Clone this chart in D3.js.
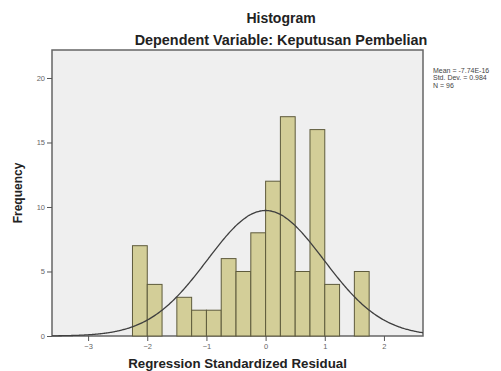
<!DOCTYPE html>
<html>
<head>
<meta charset="utf-8">
<script src="https://cdn.jsdelivr.net/npm/d3@7"></script>
<style>
  body { margin: 0; background: #fff; }
  #chart svg { display: block; }
  .frame { fill: #efefef; stroke: #666; stroke-width: 1.5px; }
  .bar { fill: #d3ce98; stroke: #5e5b3c; stroke-width: 1px; }
  .curve { fill: none; stroke: #3f3f3f; stroke-width: 1.3px; }
  .axis text { font-family: "Liberation Sans", Arial, sans-serif; font-size: 7.5px; fill: #666; }
  .axis path, .axis line { stroke: #555; }
</style>
</head>
<body>
<div id="chart"></div>
<script>
// histogram bins (lower edges) and counts
const binStarts = [-2.25, -2.0, -1.75, -1.5, -1.25, -1.0, -0.75, -0.5, -0.25, 0.0, 0.25, 0.5, 0.75, 1.0, 1.25, 1.5];
const counts    = [7, 4, 0, 3, 2, 2, 6, 5, 8, 12, 17, 5, 16, 4, 0, 5];
const binWidth = 0.25;

const xTicks = [-3, -2, -1, 0, 1, 2];
const yTicks = [0, 5, 10, 15, 20];

const mean = -7.74e-16;
const stdDev = 0.984;
const n = 96;
const legendLines = ["Mean = -7.74E-16", "Std. Dev. = 0.984", "N = 96"];

const width = 501, height = 371;
const plot = { left: 52, right: 423, top: 50, bottom: 336 };

const svg = d3.select("#chart").append("svg")
  .attr("width", width)
  .attr("height", height);

const x = d3.scaleLinear().domain([-3.61, 2.66]).range([plot.left, plot.right]);
const y = d3.scaleLinear().domain([0, 22.17]).range([plot.bottom, plot.top]);

// plot background
svg.append("rect")
  .attr("class", "frame")
  .attr("x", plot.left)
  .attr("y", plot.top)
  .attr("width", plot.right - plot.left)
  .attr("height", plot.bottom - plot.top);

// bars
const bins = binStarts.map((s, i) => ({ x0: s, x1: s + binWidth, count: counts[i] }))
  .filter(d => d.count > 0);

svg.selectAll(".bar")
  .data(bins)
  .enter()
  .append("rect")
  .attr("class", "bar")
  .attr("x", d => x(d.x0))
  .attr("y", d => y(d.count))
  .attr("width", d => x(d.x1) - x(d.x0))
  .attr("height", d => y(0) - y(d.count));

// normal curve
const curveX = d3.range(-3.61, 2.66, 0.02).concat([2.66]);
const scale = n * binWidth / (stdDev * Math.sqrt(2 * Math.PI));
const line = d3.line()
  .x(d => x(d))
  .y(d => y(scale * Math.exp(-0.5 * Math.pow((d - mean) / stdDev, 2))))
  .curve(d3.curveBasis);

svg.append("path")
  .datum(curveX)
  .attr("class", "curve")
  .attr("d", line);

// axes
svg.append("g")
  .attr("class", "axis")
  .attr("transform", `translate(0,${plot.bottom})`)
  .call(d3.axisBottom(x).tickValues(xTicks).tickSize(5).tickPadding(3).tickFormat(d3.format("d")))
  .call(g => g.select(".domain").remove());

svg.append("g")
  .attr("class", "axis")
  .attr("transform", `translate(${plot.left},0)`)
  .call(d3.axisLeft(y).tickValues(yTicks).tickSize(5).tickPadding(2).tickFormat(d3.format("d")))
  .call(g => g.select(".domain").remove());

// titles
const font = "'Liberation Sans', Arial, sans-serif";
svg.append("text")
  .attr("x", 281).attr("y", 23)
  .attr("text-anchor", "middle")
  .style("font-family", font).style("font-size", "14px").style("font-weight", "bold").style("fill", "#222")
  .text("Histogram");

svg.append("text")
  .attr("x", 281).attr("y", 45)
  .attr("text-anchor", "middle")
  .style("font-family", font).style("font-size", "14.4px").style("font-weight", "bold").style("fill", "#222")
  .text("Dependent Variable: Keputusan Pembelian");

svg.append("text")
  .attr("transform", `translate(22,${(plot.top + plot.bottom) / 2}) rotate(-90)`)
  .attr("text-anchor", "middle")
  .style("font-family", font).style("font-size", "12px").style("font-weight", "bold").style("fill", "#222")
  .text("Frequency");

svg.append("text")
  .attr("x", (plot.left + plot.right) / 2).attr("y", 368)
  .attr("text-anchor", "middle")
  .style("font-family", font).style("font-size", "13.3px").style("font-weight", "bold").style("fill", "#222")
  .text("Regression Standardized Residual");

// legend
svg.selectAll(".legend")
  .data(legendLines)
  .enter()
  .append("text")
  .attr("class", "legend")
  .attr("x", 433)
  .attr("y", (d, i) => 72.5 + i * 7.5)
  .style("font-family", font).style("font-size", "7px").style("fill", "#444")
  .text(d => d);
</script>
</body>
</html>
